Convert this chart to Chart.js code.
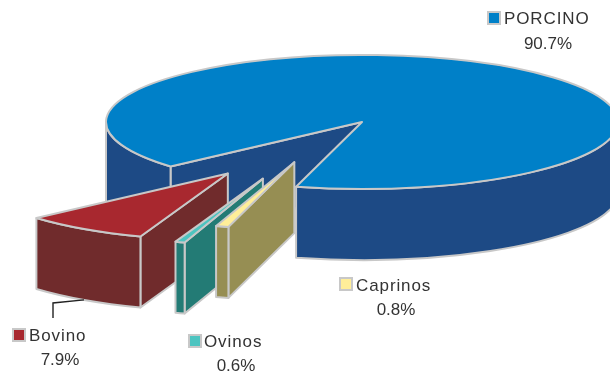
<!DOCTYPE html>
<html>
<head>
<meta charset="utf-8">
<style>
	html, body { margin:0; padding:0; background:#fff; }
	canvas { display:block; }
</style>
<script src="https://cdn.jsdelivr.net/npm/chart.js@4/dist/chart.umd.min.js"></script>
</head>
<body>
<canvas id="chart" width="610" height="375"></canvas>
<script>
const categories = ['PORCINO', 'Caprinos', 'Ovinos', 'Bovino'];
const shares = [90.7, 0.8, 0.6, 7.9];

const topColors = ['#0080C8', '#FFEE99', '#4CC4C0', '#A8282F'];
const wallColors = ['#1D4A85', '#968E53', '#237B75', '#702B2C'];
const edgeColor = '#C8C8C8';

// how far each wedge is pulled out (fraction of radius) and in which direction (deg)
const pullDist = [0, 0.655, 0.93, 0.93];
const pullDir = [0, 113.8, 114.6, 124.3];
const paintOrder = [0, 3, 2, 1];

const labelSpots = [
	{boxX:488, boxY:12, textX:504, textY:24, pctX:548, pctY:49},
	{boxX:340, boxY:278, textX:356, textY:291, pctX:396, pctY:315},
	{boxX:189, boxY:335, textX:204, textY:347, pctX:236, pctY:371},
	{boxX:13, boxY:329, textX:29, textY:341, pctX:60, pctY:365}
];

const rx = 256, ry = 67, depth = 71;
const rad = d => d * Math.PI / 180;

function tipOf(arc, i) {
	const a = rad(pullDir[i]);
	return {
		x: arc.x + Math.cos(a) * pullDist[i] * rx,
		y: arc.y + Math.sin(a) * pullDist[i] * ry
	};
}

function sideWall(ctx, tip, angle) {
	const ex = tip.x + Math.cos(angle) * rx;
	const ey = tip.y + Math.sin(angle) * ry;
	ctx.beginPath();
	ctx.moveTo(tip.x, tip.y);
	ctx.lineTo(ex, ey);
	ctx.lineTo(ex, ey + depth);
	ctx.lineTo(tip.x, tip.y + depth);
	ctx.closePath();
	ctx.fill();
	ctx.stroke();
}

function outerWall(ctx, tip, a0, a1) {
	// only the parts of the rim facing the viewer (0..180, 360..540 ...)
	for (let k = 0; k < 2; k++) {
		const from = Math.max(a0, k * 2 * Math.PI);
		const to = Math.min(a1, k * 2 * Math.PI + Math.PI);
		if (to <= from) continue;
		ctx.beginPath();
		ctx.ellipse(tip.x, tip.y, rx, ry, 0, from, to);
		if (k === 0 && to === Math.PI) {
			// source outline keeps the left edge square for a few px before curving
			ctx.lineTo(tip.x - rx, tip.y + depth + 10);
			ctx.ellipse(tip.x, tip.y + depth, rx, ry, 0, to - 0.25, from, true);
		} else {
			ctx.ellipse(tip.x, tip.y + depth, rx, ry, 0, to, from, true);
		}
		ctx.closePath();
		ctx.fill();
		ctx.stroke();
	}
}

const pie3d = {
	id: 'pie3d',
	beforeDatasetsDraw(chart) {
		const ctx = chart.ctx;
		const arcs = chart.getDatasetMeta(0).data;
		ctx.save();
		ctx.lineWidth = 2;
		ctx.lineJoin = 'round';
		ctx.strokeStyle = edgeColor;
		paintOrder.forEach(i => {
			const arc = arcs[i];
			const tip = tipOf(arc, i);
			// normalise so the angles run upward from 0
			let a0 = arc.startAngle, a1 = arc.endAngle;
			while (a0 < 0) { a0 += 2 * Math.PI; a1 += 2 * Math.PI; }
			ctx.fillStyle = wallColors[i];
			if (Math.cos(a0) < 0) sideWall(ctx, tip, a0);
			if (Math.cos(a1) > 0) sideWall(ctx, tip, a1);
			outerWall(ctx, tip, a0, a1);
			ctx.fillStyle = topColors[i];
			ctx.beginPath();
			ctx.moveTo(tip.x, tip.y);
			ctx.ellipse(tip.x, tip.y, rx, ry, 0, a0, a1);
			ctx.closePath();
			ctx.fill();
			ctx.stroke();
		});
		ctx.restore();
		return false;
	},
	afterDraw(chart) {
		const ctx = chart.ctx;
		const arcs = chart.getDatasetMeta(0).data;
		ctx.save();
		// leader line from Bovino
		const bov = arcs[3], tip = tipOf(bov, 3), mid = (bov.startAngle + bov.endAngle) / 2;
		const spot = labelSpots[3];
		ctx.strokeStyle = '#222';
		ctx.lineWidth = 1.4;
		ctx.beginPath();
		ctx.moveTo(tip.x + Math.cos(mid) * rx, tip.y + Math.sin(mid) * ry + depth);
		ctx.lineTo(spot.boxX + 40, spot.boxY - 26);
		ctx.lineTo(spot.boxX + 40, spot.boxY - 11);
		ctx.stroke();
		// labels
		ctx.font = '17px "Liberation Sans"';
		ctx.textBaseline = 'alphabetic';
		categories.forEach((name, i) => {
			const s = labelSpots[i];
			ctx.fillStyle = topColors[i];
			ctx.strokeStyle = edgeColor;
			ctx.lineWidth = 2;
			ctx.fillRect(s.boxX, s.boxY, 12, 12);
			ctx.strokeRect(s.boxX, s.boxY, 12, 12);
			ctx.fillStyle = '#333';
			ctx.textAlign = 'left';
			ctx.letterSpacing = '0.9px';
			ctx.fillText(name, s.textX, s.textY);
			ctx.textAlign = 'center';
			ctx.letterSpacing = '0px';
			ctx.fillText(shares[i].toFixed(1) + '%', s.pctX, s.pctY);
		});
		ctx.restore();
	}
};

new Chart(document.getElementById('chart'), {
	type: 'pie',
	data: {
		labels: categories,
		datasets: [{ data: shares, backgroundColor: topColors, borderColor: edgeColor }]
	},
	options: {
		responsive: false,
		animation: false,
		rotation: 228.4,
		layout: { padding: { left: 114, right: 0, top: 0, bottom: 131 } },
		plugins: { legend: { display: false }, tooltip: { enabled: false } }
	},
	plugins: [pie3d]
});
</script>
</body>
</html>
